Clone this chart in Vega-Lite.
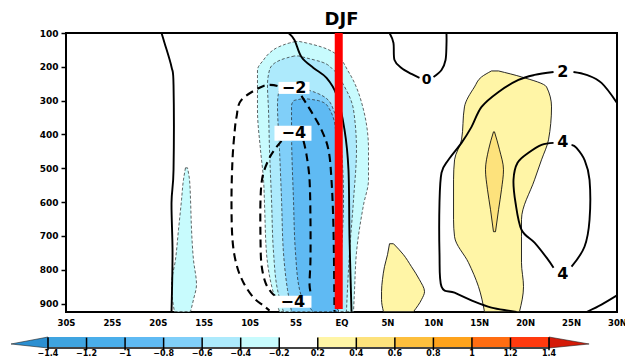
{
  "$schema": "https://vega.github.io/schema/vega-lite/v6.json",
  "autosize": {"type": "pad"},
  "padding": {"left": 9, "top": 10, "right": 0, "bottom": 2},
  "bounds": "flush",
  "spacing": 25,
  "background": "white",
  "config": {
    "view": {"stroke": null},
    "font": "DejaVu Sans",
    "axis": {"labelFont": "DejaVu Sans", "labelFontSize": 9, "labelFontWeight": "bold", "labelColor": "black", "tickColor": "black", "tickWidth": 1.5, "grid": false, "domain": false, "labelOverlap": false, "labelFlush": false}
  },
  "datasets": {
    "fills": [
      {"id": "b1", "cls": "-0.4..-0.2", "p": 125, "lon": -5.0, "hi": -4.6},
      {"id": "b1", "cls": "-0.4..-0.2", "p": 129.5, "lon": -5.66, "hi": -3.81},
      {"id": "b1", "cls": "-0.4..-0.2", "p": 141.3, "lon": -6.86, "hi": -2.18},
      {"id": "b1", "cls": "-0.4..-0.2", "p": 159.1, "lon": -7.84, "hi": -0.76},
      {"id": "b1", "cls": "-0.4..-0.2", "p": 179.7, "lon": -8.49, "hi": 0},
      {"id": "b1", "cls": "-0.4..-0.2", "p": 209.3, "lon": -9.15, "hi": 0.65},
      {"id": "b1", "cls": "-0.4..-0.2", "p": 229.9, "lon": -9.15, "hi": 1.09},
      {"id": "b1", "cls": "-0.4..-0.2", "p": 327.4, "lon": -9.15, "hi": 2.40},
      {"id": "b1", "cls": "-0.4..-0.2", "p": 445.5, "lon": -8.82, "hi": 2.94},
      {"id": "b1", "cls": "-0.4..-0.2", "p": 534.1, "lon": -8.49, "hi": 2.94},
      {"id": "b1", "cls": "-0.4..-0.2", "p": 607.9, "lon": -8.38, "hi": 2.40},
      {"id": "b1", "cls": "-0.4..-0.2", "p": 749.7, "lon": -8.17, "hi": 1.63},
      {"id": "b1", "cls": "-0.4..-0.2", "p": 858.9, "lon": -7.51, "hi": 1.42},
      {"id": "b1", "cls": "-0.4..-0.2", "p": 924, "lon": -6.75, "hi": 1.31},
      {"id": "b1b", "cls": "-0.4..-0.2", "p": 498.7, "lon": -16.99, "hi": -16.77},
      {"id": "b1b", "cls": "-0.4..-0.2", "p": 534.1, "lon": -17.21, "hi": -16.55},
      {"id": "b1b", "cls": "-0.4..-0.2", "p": 593.2, "lon": -17.42, "hi": -16.44},
      {"id": "b1b", "cls": "-0.4..-0.2", "p": 681.7, "lon": -17.75, "hi": -16.33},
      {"id": "b1b", "cls": "-0.4..-0.2", "p": 770.3, "lon": -18.08, "hi": -16.12},
      {"id": "b1b", "cls": "-0.4..-0.2", "p": 844.2, "lon": -18.51, "hi": -15.79},
      {"id": "b1b", "cls": "-0.4..-0.2", "p": 888.5, "lon": -18.40, "hi": -16.12},
      {"id": "b1b", "cls": "-0.4..-0.2", "p": 924, "lon": -18.19, "hi": -16.44},
      {"id": "b2", "cls": "-0.6..-0.4", "p": 167.9, "lon": -5.12, "hi": -4.68},
      {"id": "b2", "cls": "-0.6..-0.4", "p": 173.8, "lon": -5.99, "hi": -3.81},
      {"id": "b2", "cls": "-0.6..-0.4", "p": 185.6, "lon": -7.08, "hi": -2.18},
      {"id": "b2", "cls": "-0.6..-0.4", "p": 209.3, "lon": -7.84, "hi": -0.87},
      {"id": "b2", "cls": "-0.6..-0.4", "p": 253.6, "lon": -8.06, "hi": 0.22},
      {"id": "b2", "cls": "-0.6..-0.4", "p": 327.4, "lon": -7.95, "hi": 1.31},
      {"id": "b2", "cls": "-0.6..-0.4", "p": 445.5, "lon": -7.84, "hi": 1.63},
      {"id": "b2", "cls": "-0.6..-0.4", "p": 593.2, "lon": -7.62, "hi": 1.31},
      {"id": "b2", "cls": "-0.6..-0.4", "p": 749.7, "lon": -7.40, "hi": 0.87},
      {"id": "b2", "cls": "-0.6..-0.4", "p": 858.9, "lon": -6.97, "hi": 0.65},
      {"id": "b2", "cls": "-0.6..-0.4", "p": 924, "lon": -6.32, "hi": 0.54},
      {"id": "b3", "cls": "-0.8..-0.6", "p": 256.5, "lon": -5.55, "hi": -5.12},
      {"id": "b3", "cls": "-0.8..-0.6", "p": 262.4, "lon": -6.32, "hi": -4.36},
      {"id": "b3", "cls": "-0.8..-0.6", "p": 277.2, "lon": -6.86, "hi": -2.72},
      {"id": "b3", "cls": "-0.8..-0.6", "p": 312.6, "lon": -6.97, "hi": -1.09},
      {"id": "b3", "cls": "-0.8..-0.6", "p": 445.5, "lon": -6.75, "hi": 0},
      {"id": "b3", "cls": "-0.8..-0.6", "p": 593.2, "lon": -6.53, "hi": 0.22},
      {"id": "b3", "cls": "-0.8..-0.6", "p": 749.7, "lon": -6.32, "hi": 0},
      {"id": "b3", "cls": "-0.8..-0.6", "p": 858.9, "lon": -5.88, "hi": -0.22},
      {"id": "b3", "cls": "-0.8..-0.6", "p": 924, "lon": -5.44, "hi": -0.33},
      {"id": "b4", "cls": "-1..-0.8", "p": 294.9, "lon": -4.36, "hi": -3.70},
      {"id": "b4", "cls": "-1..-0.8", "p": 300.8, "lon": -5.23, "hi": -2.40},
      {"id": "b4", "cls": "-1..-0.8", "p": 315.6, "lon": -5.44, "hi": -1.52},
      {"id": "b4", "cls": "-1..-0.8", "p": 386.4, "lon": -5.44, "hi": -0.65},
      {"id": "b4", "cls": "-1..-0.8", "p": 593.2, "lon": -5.23, "hi": -0.44},
      {"id": "b4", "cls": "-1..-0.8", "p": 749.7, "lon": -5.01, "hi": -0.44},
      {"id": "b4", "cls": "-1..-0.8", "p": 858.9, "lon": -4.57, "hi": -0.44},
      {"id": "b4", "cls": "-1..-0.8", "p": 903.2, "lon": -3.81, "hi": -0.44},
      {"id": "b4", "cls": "-1..-0.8", "p": 924, "lon": -3.05, "hi": -0.44},
      {"id": "y1", "cls": "0.2..0.4", "p": 212.2, "lon": 16.33, "hi": 17.10},
      {"id": "y1", "cls": "0.2..0.4", "p": 229.9, "lon": 15.25, "hi": 19.60},
      {"id": "y1", "cls": "0.2..0.4", "p": 259.5, "lon": 14.48, "hi": 22.33},
      {"id": "y1", "cls": "0.2..0.4", "p": 318.5, "lon": 13.39, "hi": 22.87},
      {"id": "y1", "cls": "0.2..0.4", "p": 416.0, "lon": 13.07, "hi": 22.54},
      {"id": "y1", "cls": "0.2..0.4", "p": 475.0, "lon": 12.31, "hi": 21.78},
      {"id": "y1", "cls": "0.2..0.4", "p": 534.1, "lon": 12.20, "hi": 21.02},
      {"id": "y1", "cls": "0.2..0.4", "p": 652.2, "lon": 12.20, "hi": 19.60},
      {"id": "y1", "cls": "0.2..0.4", "p": 702.4, "lon": 12.31, "hi": 19.60},
      {"id": "y1", "cls": "0.2..0.4", "p": 779.2, "lon": 13.83, "hi": 19.60},
      {"id": "y1", "cls": "0.2..0.4", "p": 850.1, "lon": 14.92, "hi": 19.82},
      {"id": "y1", "cls": "0.2..0.4", "p": 924, "lon": 15.57, "hi": 19.38},
      {"id": "y3", "cls": "0.2..0.4", "p": 723.1, "lon": 5.23, "hi": 5.66},
      {"id": "y3", "cls": "0.2..0.4", "p": 755.6, "lon": 5.01, "hi": 6.75},
      {"id": "y3", "cls": "0.2..0.4", "p": 791.0, "lon": 4.68, "hi": 7.62},
      {"id": "y3", "cls": "0.2..0.4", "p": 829.4, "lon": 4.46, "hi": 8.49},
      {"id": "y3", "cls": "0.2..0.4", "p": 864.8, "lon": 4.36, "hi": 9.04},
      {"id": "y3", "cls": "0.2..0.4", "p": 888.5, "lon": 4.36, "hi": 8.71},
      {"id": "y3", "cls": "0.2..0.4", "p": 924, "lon": 4.57, "hi": 7.84},
      {"id": "y2", "cls": "0.4..0.6", "p": 392.3, "lon": 16.55, "hi": 16.66},
      {"id": "y2", "cls": "0.4..0.6", "p": 445.5, "lon": 16.01, "hi": 17.21},
      {"id": "y2", "cls": "0.4..0.6", "p": 504.6, "lon": 15.68, "hi": 17.64},
      {"id": "y2", "cls": "0.4..0.6", "p": 563.6, "lon": 15.90, "hi": 17.42},
      {"id": "y2", "cls": "0.4..0.6", "p": 622.7, "lon": 16.23, "hi": 17.10},
      {"id": "y2", "cls": "0.4..0.6", "p": 687.6, "lon": 16.55, "hi": 16.77}
    ],
    "lines": [
      {"id": "z1", "kind": "pos", "ord": 1, "lon": -19.60, "p": 100},
      {"id": "z1", "kind": "pos", "ord": 2, "lon": -19.27, "p": 129.5},
      {"id": "z1", "kind": "pos", "ord": 3, "lon": -18.51, "p": 200.4},
      {"id": "z1", "kind": "pos", "ord": 4, "lon": -18.29, "p": 253.6},
      {"id": "z1", "kind": "pos", "ord": 5, "lon": -18.29, "p": 504.6},
      {"id": "z1", "kind": "pos", "ord": 6, "lon": -18.51, "p": 602.0},
      {"id": "z1", "kind": "pos", "ord": 7, "lon": -18.40, "p": 749.7},
      {"id": "z1", "kind": "pos", "ord": 8, "lon": -18.51, "p": 924},
      {"id": "z2", "kind": "pos", "ord": 1, "lon": -5.77, "p": 100},
      {"id": "z2", "kind": "pos", "ord": 2, "lon": -5.12, "p": 120.7},
      {"id": "z2", "kind": "pos", "ord": 3, "lon": -4.36, "p": 170.9},
      {"id": "z2", "kind": "pos", "ord": 4, "lon": -3.05, "p": 203.4},
      {"id": "z2", "kind": "pos", "ord": 5, "lon": -1.63, "p": 232.9},
      {"id": "z2", "kind": "pos", "ord": 6, "lon": -0.54, "p": 283.1},
      {"id": "z2", "kind": "pos", "ord": 7, "lon": 0.33, "p": 386.4},
      {"id": "z2", "kind": "pos", "ord": 8, "lon": 0.76, "p": 504.6},
      {"id": "z2", "kind": "pos", "ord": 9, "lon": 0.87, "p": 702.4},
      {"id": "z2", "kind": "pos", "ord": 10, "lon": 1.09, "p": 924},
      {"id": "z3a", "kind": "pos", "ord": 1, "lon": 5.23, "p": 100},
      {"id": "z3a", "kind": "pos", "ord": 2, "lon": 5.66, "p": 129.5},
      {"id": "z3a", "kind": "pos", "ord": 3, "lon": 5.77, "p": 179.7},
      {"id": "z3a", "kind": "pos", "ord": 4, "lon": 6.53, "p": 203.4},
      {"id": "z3a", "kind": "pos", "ord": 5, "lon": 7.62, "p": 221.1},
      {"id": "z3a", "kind": "pos", "ord": 6, "lon": 8.49, "p": 232.9},
      {"id": "z3b", "kind": "pos", "ord": 1, "lon": 10.02, "p": 229.9},
      {"id": "z3b", "kind": "pos", "ord": 2, "lon": 10.89, "p": 209.3},
      {"id": "z3b", "kind": "pos", "ord": 3, "lon": 11.33, "p": 179.7},
      {"id": "z3b", "kind": "pos", "ord": 4, "lon": 11.43, "p": 135.4},
      {"id": "z3b", "kind": "pos", "ord": 5, "lon": 11.43, "p": 100},
      {"id": "c2a", "kind": "pos", "ord": 1, "lon": 30.0, "p": 306.7},
      {"id": "c2a", "kind": "pos", "ord": 2, "lon": 28.31, "p": 247.6},
      {"id": "c2a", "kind": "pos", "ord": 3, "lon": 26.68, "p": 224.0},
      {"id": "c2a", "kind": "pos", "ord": 4, "lon": 25.26, "p": 215.2},
      {"id": "c2b", "kind": "pos", "ord": 1, "lon": 23.09, "p": 215.2},
      {"id": "c2b", "kind": "pos", "ord": 2, "lon": 21.02, "p": 224.0},
      {"id": "c2b", "kind": "pos", "ord": 3, "lon": 19.27, "p": 238.8},
      {"id": "c2b", "kind": "pos", "ord": 4, "lon": 17.10, "p": 274.2},
      {"id": "c2b", "kind": "pos", "ord": 5, "lon": 15.25, "p": 318.5},
      {"id": "c2b", "kind": "pos", "ord": 6, "lon": 14.16, "p": 377.6},
      {"id": "c2b", "kind": "pos", "ord": 7, "lon": 13.07, "p": 424.8},
      {"id": "c2b", "kind": "pos", "ord": 8, "lon": 11.65, "p": 475.0},
      {"id": "c2b", "kind": "pos", "ord": 9, "lon": 10.89, "p": 513.4},
      {"id": "c2b", "kind": "pos", "ord": 10, "lon": 10.67, "p": 602.0},
      {"id": "c2b", "kind": "pos", "ord": 11, "lon": 10.67, "p": 749.7},
      {"id": "c2b", "kind": "pos", "ord": 12, "lon": 10.89, "p": 850.1},
      {"id": "c2b", "kind": "pos", "ord": 13, "lon": 12.31, "p": 867.8},
      {"id": "c2b", "kind": "pos", "ord": 14, "lon": 14.48, "p": 894.4},
      {"id": "c2b", "kind": "pos", "ord": 15, "lon": 16.33, "p": 912.1},
      {"id": "c2b", "kind": "pos", "ord": 16, "lon": 18.19, "p": 921.0},
      {"id": "c2b", "kind": "pos", "ord": 17, "lon": 19.06, "p": 925},
      {"id": "c2c", "kind": "pos", "ord": 1, "lon": 26.68, "p": 925},
      {"id": "c2c", "kind": "pos", "ord": 2, "lon": 28.31, "p": 903.2},
      {"id": "c2c", "kind": "pos", "ord": 3, "lon": 30.0, "p": 876.0},
      {"id": "c4a", "kind": "pos", "ord": 1, "lon": 23.09, "p": 424.8},
      {"id": "c4a", "kind": "pos", "ord": 2, "lon": 21.78, "p": 430.7},
      {"id": "c4a", "kind": "pos", "ord": 3, "lon": 20.36, "p": 454.4},
      {"id": "c4a", "kind": "pos", "ord": 4, "lon": 19.17, "p": 483.9},
      {"id": "c4a", "kind": "pos", "ord": 5, "lon": 18.73, "p": 534.1},
      {"id": "c4a", "kind": "pos", "ord": 6, "lon": 18.95, "p": 602.0},
      {"id": "c4a", "kind": "pos", "ord": 7, "lon": 19.60, "p": 681.7},
      {"id": "c4a", "kind": "pos", "ord": 8, "lon": 21.02, "p": 720.1},
      {"id": "c4a", "kind": "pos", "ord": 9, "lon": 22.33, "p": 764.4},
      {"id": "c4a", "kind": "pos", "ord": 10, "lon": 23.09, "p": 794.0},
      {"id": "c4b", "kind": "pos", "ord": 1, "lon": 25.05, "p": 791.0},
      {"id": "c4b", "kind": "pos", "ord": 2, "lon": 26.46, "p": 732.0},
      {"id": "c4b", "kind": "pos", "ord": 3, "lon": 27.01, "p": 652.2},
      {"id": "c4b", "kind": "pos", "ord": 4, "lon": 27.01, "p": 534.1},
      {"id": "c4b", "kind": "pos", "ord": 5, "lon": 26.46, "p": 475.0},
      {"id": "c4b", "kind": "pos", "ord": 6, "lon": 25.59, "p": 439.6},
      {"id": "c4b", "kind": "pos", "ord": 7, "lon": 25.05, "p": 430.7},
      {"id": "n2a", "kind": "neg", "ord": 1, "lon": -6.97, "p": 256.5},
      {"id": "n2a", "kind": "neg", "ord": 2, "lon": -8.49, "p": 256.5},
      {"id": "n2a", "kind": "neg", "ord": 3, "lon": -10.89, "p": 297.9},
      {"id": "n2a", "kind": "neg", "ord": 4, "lon": -11.43, "p": 348.1},
      {"id": "n2a", "kind": "neg", "ord": 5, "lon": -11.65, "p": 395.3},
      {"id": "n2a", "kind": "neg", "ord": 6, "lon": -11.87, "p": 475.0},
      {"id": "n2a", "kind": "neg", "ord": 7, "lon": -11.98, "p": 593.2},
      {"id": "n2a", "kind": "neg", "ord": 8, "lon": -11.87, "p": 711.3},
      {"id": "n2a", "kind": "neg", "ord": 9, "lon": -11.43, "p": 785.1},
      {"id": "n2a", "kind": "neg", "ord": 10, "lon": -10.67, "p": 838.3},
      {"id": "n2a", "kind": "neg", "ord": 11, "lon": -9.58, "p": 882.5},
      {"id": "n2a", "kind": "neg", "ord": 12, "lon": -8.49, "p": 906.2},
      {"id": "n2a", "kind": "neg", "ord": 13, "lon": -7.84, "p": 921.0},
      {"id": "n2b", "kind": "neg", "ord": 1, "lon": -4.36, "p": 286.0},
      {"id": "n2b", "kind": "neg", "ord": 2, "lon": -3.27, "p": 333.3},
      {"id": "n2b", "kind": "neg", "ord": 3, "lon": -2.18, "p": 386.4},
      {"id": "n2b", "kind": "neg", "ord": 4, "lon": -1.42, "p": 445.5},
      {"id": "n2b", "kind": "neg", "ord": 5, "lon": -1.09, "p": 534.1},
      {"id": "n2b", "kind": "neg", "ord": 6, "lon": -0.87, "p": 681.7},
      {"id": "n2b", "kind": "neg", "ord": 7, "lon": -0.76, "p": 924},
      {"id": "n4a", "kind": "neg", "ord": 1, "lon": -6.53, "p": 418.9},
      {"id": "n4a", "kind": "neg", "ord": 2, "lon": -7.30, "p": 445.5},
      {"id": "n4a", "kind": "neg", "ord": 3, "lon": -7.95, "p": 475.0},
      {"id": "n4a", "kind": "neg", "ord": 4, "lon": -8.60, "p": 525.2},
      {"id": "n4a", "kind": "neg", "ord": 5, "lon": -8.82, "p": 593.2},
      {"id": "n4a", "kind": "neg", "ord": 6, "lon": -8.82, "p": 711.3},
      {"id": "n4a", "kind": "neg", "ord": 7, "lon": -8.71, "p": 785.1},
      {"id": "n4a", "kind": "neg", "ord": 8, "lon": -8.28, "p": 838.3},
      {"id": "n4a", "kind": "neg", "ord": 9, "lon": -7.62, "p": 867.8},
      {"id": "n4a", "kind": "neg", "ord": 10, "lon": -7.08, "p": 879.6},
      {"id": "n4b", "kind": "neg", "ord": 1, "lon": -4.14, "p": 418.9},
      {"id": "n4b", "kind": "neg", "ord": 2, "lon": -3.81, "p": 460.3},
      {"id": "n4b", "kind": "neg", "ord": 3, "lon": -3.48, "p": 534.1},
      {"id": "n4b", "kind": "neg", "ord": 4, "lon": -3.38, "p": 652.2},
      {"id": "n4b", "kind": "neg", "ord": 5, "lon": -3.38, "p": 770.3},
      {"id": "n4b", "kind": "neg", "ord": 6, "lon": -3.48, "p": 844.2},
      {"id": "n4b", "kind": "neg", "ord": 7, "lon": -3.27, "p": 876.6}
    ],
    "boxes": [
      {"lon": -6.86, "hi": -3.48, "p": 244.7, "p2": 280.1},
      {"lon": -7.30, "hi": -3.27, "p": 374.6, "p2": 418.9},
      {"lon": -7.40, "hi": -3.27, "p": 876.6, "p2": 912.1}
    ],
    "labels": [
      {"txt": "−2", "lon": -5.17, "p": 262.4, "big": true},
      {"txt": "−4", "lon": -5.2, "p": 397, "big": true},
      {"txt": "−4", "lon": -5.3, "p": 894.4, "big": true},
      {"txt": "2", "lon": 24.1, "p": 215.2, "big": true},
      {"txt": "4", "lon": 24.1, "p": 421.9, "big": true},
      {"txt": "4", "lon": 24.1, "p": 811.7, "big": true},
      {"txt": "0", "lon": 9.26, "p": 238.8, "big": false}
    ],
    "eq": [{"lon": -0.3, "p": 100, "p2": 916}],
    "cbar": [
      {"k": 0, "k1": 1, "cls": "-1.4..-1.2"},
      {"k": 1, "k1": 2, "cls": "-1.2..-1"},
      {"k": 2, "k1": 3, "cls": "-1..-0.8"},
      {"k": 3, "k1": 4, "cls": "-0.8..-0.6"},
      {"k": 4, "k1": 5, "cls": "-0.6..-0.4"},
      {"k": 5, "k1": 6, "cls": "-0.4..-0.2"},
      {"k": 6, "k1": 7, "cls": "-0.2..0.2"},
      {"k": 7, "k1": 8, "cls": "0.2..0.4"},
      {"k": 8, "k1": 9, "cls": "0.4..0.6"},
      {"k": 9, "k1": 10, "cls": "0.6..0.8"},
      {"k": 10, "k1": 11, "cls": "0.8..1"},
      {"k": 11, "k1": 12, "cls": "1..1.2"},
      {"k": 12, "k1": 13, "cls": "1.2..1.4"}
    ],
    "cticks": [
      {"k": 0, "lab": "−1.4"}, {"k": 1, "lab": "−1.2"}, {"k": 2, "lab": "−1"},
      {"k": 3, "lab": "−0.8"}, {"k": 4, "lab": "−0.6"}, {"k": 5, "lab": "−0.4"},
      {"k": 6, "lab": "−0.2"}, {"k": 7, "lab": "0.2"}, {"k": 8, "lab": "0.4"},
      {"k": 9, "lab": "0.6"}, {"k": 10, "lab": "0.8"}, {"k": 11, "lab": "1"},
      {"k": 12, "lab": "1.2"}, {"k": 13, "lab": "1.4"}
    ],
    "tri": [
      {"u": -0.96, "top": 0.364, "bot": 0.364, "cls": "<-1.4"},
      {"u": 0, "top": 1, "bot": 0, "cls": "<-1.4"},
      {"u": 13, "top": 1, "bot": 0, "cls": ">1.4"},
      {"u": 14.04, "top": 0.364, "bot": 0.364, "cls": ">1.4"}
    ]
  },
  "vconcat": [
    {
      "width": 551,
      "height": 279,
      "view": {"stroke": "black", "strokeWidth": 2},
      "title": {"text": "DJF", "font": "DejaVu Sans", "fontSize": 18, "fontWeight": "bold", "color": "black", "anchor": "middle", "offset": 0},
      "encoding": {
        "y": {"field": "p", "type": "quantitative", "title": null,
              "scale": {"domain": [100, 925], "reverse": true, "nice": false, "zero": false},
              "axis": {"values": [100, 200, 300, 400, 500, 600, 700, 800, 900], "tickSize": 5, "labelPadding": 3, "labelOverlap": false}},
        "x": {"field": "lon", "type": "quantitative", "title": null,
              "scale": {"domain": [-30, 30], "nice": false, "zero": false},
              "axis": {"values": [-30, -25, -20, -15, -10, -5, 0, 5, 10, 15, 20, 25, 30], "ticks": false, "labelPadding": 6, "labelOverlap": false, "labelFontSize": 8.5,
                       "labelExpr": "datum.value < 0 ? (-datum.value) + 'S' : (datum.value > 0 ? datum.value + 'N' : 'EQ')"}}
      },
      "layer": [
        {
          "data": {"name": "fills"},
          "transform": [{"filter": "datum.cls == '-0.4..-0.2'"}],
          "mark": {"type": "area", "orient": "horizontal", "interpolate": "monotone", "stroke": "#222", "strokeWidth": 0.7, "strokeDash": [3, 2], "clip": true},
          "encoding": {
            "x": {"field": "lon", "type": "quantitative", "stack": null},
            "x2": {"field": "hi"},
            "color": {"field": "cls", "type": "nominal", "legend": null,
                      "scale": {"domain": ["<-1.4", "-1.4..-1.2", "-1.2..-1", "-1..-0.8", "-0.8..-0.6", "-0.6..-0.4", "-0.4..-0.2", "-0.2..0.2", "0.2..0.4", "0.4..0.6", "0.6..0.8", "0.8..1", "1..1.2", "1.2..1.4", ">1.4"],
                                "range": ["#2b8fd1", "#3fa4e0", "#4aaeea", "#5fbaf3", "#80cff9", "#adeafc", "#c8fbfd", "#ffffff", "#fff5a6", "#fde27c", "#fdbf3d", "#fea31c", "#ff6d12", "#ff3a0e", "#d41a08"]}},
            "detail": {"field": "id"}
          }
        },
        {
          "data": {"name": "fills"},
          "transform": [{"filter": "datum.cls == '-0.6..-0.4'"}],
          "mark": {"type": "area", "orient": "horizontal", "interpolate": "monotone", "stroke": "#222", "strokeWidth": 0.7, "strokeDash": [3, 2], "clip": true},
          "encoding": {
            "x": {"field": "lon", "type": "quantitative", "stack": null},
            "x2": {"field": "hi"},
            "color": {"field": "cls", "type": "nominal", "legend": null},
            "detail": {"field": "id"}
          }
        },
        {
          "data": {"name": "fills"},
          "transform": [{"filter": "datum.cls == '-0.8..-0.6'"}],
          "mark": {"type": "area", "orient": "horizontal", "interpolate": "monotone", "stroke": "#222", "strokeWidth": 0.7, "strokeDash": [3, 2], "clip": true},
          "encoding": {
            "x": {"field": "lon", "type": "quantitative", "stack": null},
            "x2": {"field": "hi"},
            "color": {"field": "cls", "type": "nominal", "legend": null},
            "detail": {"field": "id"}
          }
        },
        {
          "data": {"name": "fills"},
          "transform": [{"filter": "datum.cls == '-1..-0.8'"}],
          "mark": {"type": "area", "orient": "horizontal", "interpolate": "monotone", "stroke": "#222", "strokeWidth": 0.7, "strokeDash": [3, 2], "clip": true},
          "encoding": {
            "x": {"field": "lon", "type": "quantitative", "stack": null},
            "x2": {"field": "hi"},
            "color": {"field": "cls", "type": "nominal", "legend": null},
            "detail": {"field": "id"}
          }
        },
        {
          "data": {"name": "fills"},
          "transform": [{"filter": "datum.cls == '0.2..0.4'"}],
          "mark": {"type": "area", "orient": "horizontal", "interpolate": "monotone", "stroke": "#111", "strokeWidth": 0.9, "clip": true},
          "encoding": {
            "x": {"field": "lon", "type": "quantitative", "stack": null},
            "x2": {"field": "hi"},
            "color": {"field": "cls", "type": "nominal", "legend": null},
            "detail": {"field": "id"}
          }
        },
        {
          "data": {"name": "fills"},
          "transform": [{"filter": "datum.cls == '0.4..0.6'"}],
          "mark": {"type": "area", "orient": "horizontal", "interpolate": "monotone", "stroke": "#111", "strokeWidth": 0.9, "clip": true},
          "encoding": {
            "x": {"field": "lon", "type": "quantitative", "stack": null},
            "x2": {"field": "hi"},
            "color": {"field": "cls", "type": "nominal", "legend": null},
            "detail": {"field": "id"}
          }
        },
        {
          "data": {"name": "lines"},
          "transform": [{"filter": "datum.kind == 'pos'"}],
          "mark": {"type": "line", "color": "black", "strokeWidth": 1.9, "interpolate": "cardinal", "clip": true},
          "encoding": {
            "detail": {"field": "id"},
            "order": {"field": "ord", "type": "quantitative"}
          }
        },
        {
          "data": {"name": "lines"},
          "transform": [{"filter": "datum.kind == 'neg'"}],
          "mark": {"type": "line", "color": "black", "strokeWidth": 2.1, "strokeDash": [8, 5], "interpolate": "cardinal", "clip": true},
          "encoding": {
            "detail": {"field": "id"},
            "order": {"field": "ord", "type": "quantitative"}
          }
        },
        {
          "data": {"name": "eq"},
          "mark": {"type": "rule", "color": "#ff0000", "strokeWidth": 8},
          "encoding": {
            "y2": {"field": "p2"}
          }
        },
        {
          "data": {"name": "boxes"},
          "mark": {"type": "rect", "fill": "white"},
          "encoding": {
            "x2": {"field": "hi"},
            "y2": {"field": "p2"}
          }
        },
        {
          "data": {"name": "labels"},
          "transform": [{"filter": "datum.big"}],
          "mark": {"type": "text", "font": "DejaVu Sans", "fontSize": 16, "fontWeight": "bold", "color": "black", "align": "center", "baseline": "middle"},
          "encoding": {
            "text": {"field": "txt"}
          }
        },
        {
          "data": {"name": "labels"},
          "transform": [{"filter": "!datum.big"}],
          "mark": {"type": "text", "font": "DejaVu Sans", "fontSize": 14, "fontWeight": "bold", "color": "black", "align": "center", "baseline": "middle"},
          "encoding": {
            "text": {"field": "txt"}
          }
        }
      ]
    },
    {
      "width": 551,
      "height": 11,
      "layer": [
        {
          "data": {"name": "cbar"},
          "mark": {"type": "rect"},
          "encoding": {
            "x": {"field": "k", "type": "quantitative", "axis": null, "scale": {"domain": [0.467, 14.764], "nice": false, "zero": false}},
            "x2": {"field": "k1"},
            "y": {"datum": 0, "type": "quantitative", "axis": null, "scale": {"domain": [0, 1], "nice": false, "zero": false}},
            "y2": {"datum": 1},
            "color": {"field": "cls", "type": "nominal", "legend": null,
                      "scale": {"domain": ["<-1.4", "-1.4..-1.2", "-1.2..-1", "-1..-0.8", "-0.8..-0.6", "-0.6..-0.4", "-0.4..-0.2", "-0.2..0.2", "0.2..0.4", "0.4..0.6", "0.6..0.8", "0.8..1", "1..1.2", "1.2..1.4", ">1.4"],
                                "range": ["#2b8fd1", "#3fa4e0", "#4aaeea", "#5fbaf3", "#80cff9", "#adeafc", "#c8fbfd", "#ffffff", "#fff5a6", "#fde27c", "#fdbf3d", "#fea31c", "#ff6d12", "#ff3a0e", "#d41a08"]}}
          }
        },
        {
          "data": {"name": "tri"},
          "mark": {"type": "area", "stroke": "#222", "strokeWidth": 0.6},
          "encoding": {
            "x": {"field": "u", "type": "quantitative"},
            "y": {"field": "top", "type": "quantitative", "stack": null},
            "y2": {"field": "bot"},
            "color": {"field": "cls", "type": "nominal", "legend": null}
          }
        },
        {
          "data": {"name": "cticks"},
          "mark": {"type": "rule", "color": "#444", "strokeWidth": 1},
          "encoding": {
            "x": {"datum": 0, "type": "quantitative"},
            "x2": {"datum": 13},
            "y": {"datum": 0, "type": "quantitative"}
          }
        },
        {
          "data": {"name": "cticks"},
          "mark": {"type": "rule", "color": "black", "strokeWidth": 1.5},
          "encoding": {
            "x": {"field": "k", "type": "quantitative"},
            "y": {"datum": 0.95, "type": "quantitative"},
            "y2": {"datum": -0.2}
          }
        },
        {
          "data": {"name": "cticks"},
          "mark": {"type": "text", "font": "DejaVu Sans", "fontSize": 8, "fontWeight": "bold", "color": "black", "align": "center", "baseline": "middle"},
          "encoding": {
            "x": {"field": "k", "type": "quantitative"},
            "y": {"datum": -0.52, "type": "quantitative"},
            "text": {"field": "lab"}
          }
        }
      ]
    }
  ]
}
